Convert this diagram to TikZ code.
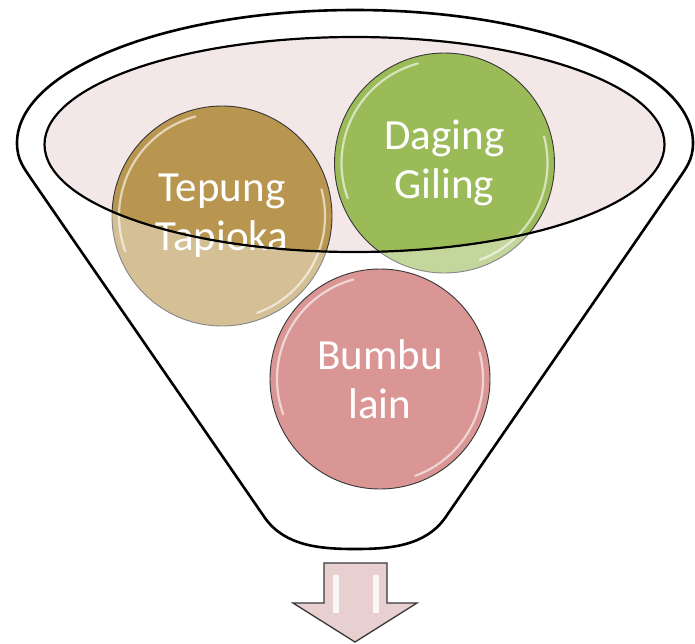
\documentclass[tikz,border=0pt]{standalone}
\usepackage{fontspec}
\setmainfont{Carlito}
\definecolor{tapiokabrown}{RGB}{185,150,80}
\definecolor{dagreen}{RGB}{155,187,89}
\definecolor{bumbupink}{RGB}{217,150,148}
\definecolor{rimpink}{RGB}{243,231,231}
\definecolor{arrowpink}{RGB}{233,208,208}
\definecolor{edgegray}{RGB}{55,55,55}
% funnel body outline: top arc, two slanted sides, rounded spout
\def\funnelpath{(17,143) arc[start angle=180,end angle=0,x radius=338pt,y radius=133pt]
  .. controls (693,160) and (686,168) .. (678,180) -- (445,518)
  .. controls (425,546) and (390,549) .. (355,549)
  .. controls (320,549) and (285,546) .. (265,518)
  -- (32,180) .. controls (24,168) and (17,160) .. (17,143) -- cycle}
\def\rimpath{(354.5,144.5) ellipse[x radius=310pt,y radius=107.5pt]}
\tikzset{
  ball/.style={circle, draw=edgegray, line width=0.9pt, minimum size=220pt,
    inner sep=0pt, text=white, align=center,
    font=\fontsize{43}{49}\selectfont},
  gloss/.style={white, opacity=0.6, line width=2.2pt, line cap=round},
}
\newcommand\glossring[1]{%
  \draw[gloss] (#1.center) ++(105:103pt) arc[start angle=105,end angle=200,radius=103pt];
  \draw[gloss] (#1.center) ++(-70:103pt) arc[start angle=-70,end angle=15,radius=103pt];}
\begin{document}
\begin{tikzpicture}[x=1pt,y=-1pt]
\useasboundingbox (0,0) rectangle (695,643);
% funnel background and rim
\fill[white] \funnelpath;
\fill[rimpink] \rimpath;
% the two upper ingredients sitting in the rim
\node[ball, fill=tapiokabrown] (tapioka) at (222,216) {};
\glossring{tapioka}
\node[ball, fill=dagreen] (daging) at (444.5,163) {};
\glossring{daging}
% translucent funnel wall over everything below the rim
\fill[white, opacity=0.4, even odd rule] \funnelpath \rimpath;
% lower ingredient inside the funnel
\node[ball, fill=bumbupink] (bumbu) at (380,379) {};
\glossring{bumbu}
% labels
\node[ball, draw=none, fill=none] (tapiokalabel) at (tapioka.center) {Tepung\\Tapioka};
\node[ball, draw=none, fill=none] (daginglabel) at (daging.center) {Daging\\Giling};
\node[ball, draw=none, fill=none] (bumbulabel) at (bumbu.center) {Bumbu\\lain};
% outlines
\draw[black, line width=2.2pt] \rimpath;
\draw[black, line width=2.6pt, line join=round] \funnelpath;
% output arrow below the spout
\draw[edgegray, fill=arrowpink, line width=1.3pt, line join=miter]
  (324,563) -- (387,563) -- (387,603) -- (417,603) -- (355,642) -- (293,603) -- (324,603) -- cycle;
\fill[white, opacity=0.85] (333,575) rectangle (339,613);
\fill[white, opacity=0.85] (373,575) rectangle (379,613);
\end{tikzpicture}
\end{document}
